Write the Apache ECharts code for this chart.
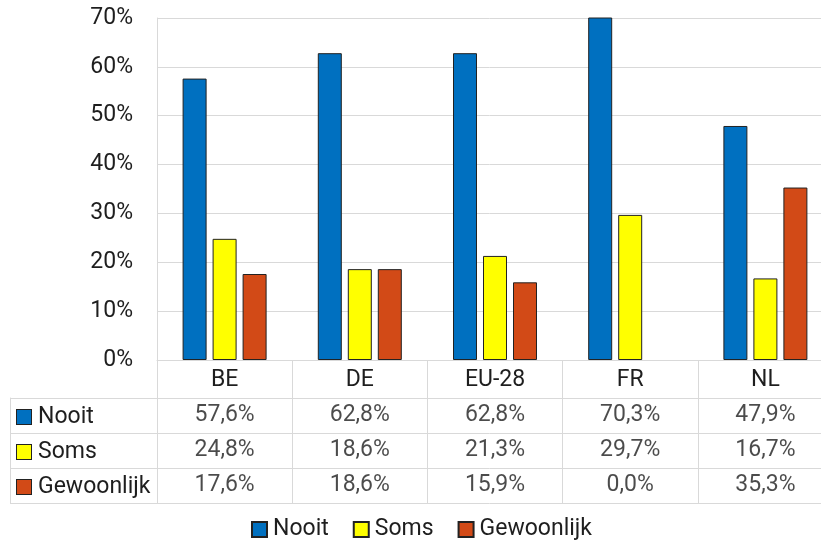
<!DOCTYPE html>
<html><head><meta charset="utf-8">
<script src="https://cdn.jsdelivr.net/npm/echarts@6/dist/echarts.min.js"></script>
<style>html,body{margin:0;padding:0;background:#fff}#c{width:821px;height:540px}</style>
</head><body><div id="c"></div>
<script>
const categories = ['BE', 'DE', 'EU-28', 'FR', 'NL'];
const seriesNames = ['Nooit', 'Soms', 'Gewoonlijk'];
const nooit = [57.6, 62.8, 62.8, 70.3, 47.9];
const soms = [24.8, 18.6, 21.3, 29.7, 16.7];
const gewoonlijk = [17.6, 18.6, 15.9, 0.0, 35.3];
const yMin = 0, yMax = 70, yStep = 10;

const colors = ['#0070C0', '#FFFF00', '#D24A17'];
const values = [nooit, soms, gewoonlijk];
const fmt = v => v.toFixed(1).replace('.', ',') + '%';

const FONT = 'Roboto';
const TXT = '#1e1e1e';
const GRID = '#d9d9d9';
const FS = 23;

const chart = echarts.init(document.getElementById('c'), null, {renderer: 'canvas'});

const rich = {};
seriesNames.forEach((n, i) => {
  rich['k' + i] = {width: 14, height: 14, backgroundColor: colors[i], borderColor: '#222', borderWidth: 1};
});
rich.t = {fontSize: FS, fontFamily: FONT, color: TXT, padding: [0, 0, 0, 7]};

const tableData = [];
values.forEach((arr, r) => arr.forEach((v, c) => tableData.push([c, r, v])));

const barSeries = seriesNames.map((n, i) => ({
  name: n, type: 'bar', xAxisIndex: 0, yAxisIndex: 0,
  data: values[i].map(v => v === 0 ? {value: v, itemStyle: {borderWidth: 0}} : v),
  barWidth: 24, barGap: '25%',
  itemStyle: {color: colors[i], borderColor: '#222', borderWidth: 1},
  emphasis: {disabled: true}
}));

const option = {
  animation: false,
  backgroundColor: '#fff',
  textStyle: {fontFamily: FONT},
  grid: [
    {left: 157, top: 18, width: 676, height: 342, outerBoundsMode: 'none'},
    {left: 157, top: 398, width: 676, height: 105, outerBoundsMode: 'none'}
  ],
  xAxis: [
    {type: 'category', gridIndex: 0, data: categories,
     axisLine: {show: true, lineStyle: {color: GRID, width: 1}},
     axisTick: {show: true, length: 38, inside: false, lineStyle: {color: GRID}},
     axisLabel: {margin: 9, fontSize: FS, color: TXT, fontFamily: FONT},
     splitLine: {show: false}},
    {type: 'category', gridIndex: 1, data: categories, position: 'top',
     axisLine: {show: true, lineStyle: {color: GRID}},
     axisTick: {show: false}, axisLabel: {show: false},
     splitLine: {show: true, lineStyle: {color: GRID}}}
  ],
  yAxis: [
    {type: 'value', gridIndex: 0, min: yMin, max: yMax, interval: yStep,
     axisLine: {show: true, lineStyle: {color: GRID}},
     axisTick: {show: false},
     axisLabel: {formatter: '{value}%', margin: 24, fontSize: FS, color: TXT, fontFamily: FONT},
     splitLine: {show: true, lineStyle: {color: GRID}}},
    {type: 'category', gridIndex: 1, data: seriesNames, inverse: true, position: 'left',
     axisLine: {show: true, lineStyle: {color: GRID}},
     axisTick: {show: true, length: 147, lineStyle: {color: GRID}},
     axisLabel: {align: 'left', margin: 140, padding: [3, 0, 0, 0], formatter: (v, i) => '{k' + i + '|}{t|' + v + '}', rich: rich},
     splitLine: {show: true, lineStyle: {color: GRID}}},
    {type: 'category', gridIndex: 1, data: seriesNames, inverse: true, position: 'left', offset: 147,
     axisLine: {show: true, lineStyle: {color: GRID}},
     axisTick: {show: false}, axisLabel: {show: false}, splitLine: {show: false}}
  ],
  legend: {
    data: seriesNames, top: 513, left: 246, icon: 'path://M0,0h10v10h-10z',
    itemWidth: 15, itemHeight: 15, itemGap: 24,
    textStyle: {fontSize: FS, color: TXT, fontFamily: FONT, padding: [0, 0, 0, 1]}
  },
  series: barSeries.concat([{
    type: 'scatter', name: 'table', xAxisIndex: 1, yAxisIndex: 1,
    data: tableData, symbolSize: 0, silent: true,
    encode: {x: 0, y: 1},
    label: {show: true, position: 'inside', offset: [0, 2], formatter: p => fmt(p.value[2]),
            fontSize: FS, color: TXT, fontFamily: FONT},
    labelLayout: {hideOverlap: false}
  }])
};
chart.setOption(option);
</script></body></html>
